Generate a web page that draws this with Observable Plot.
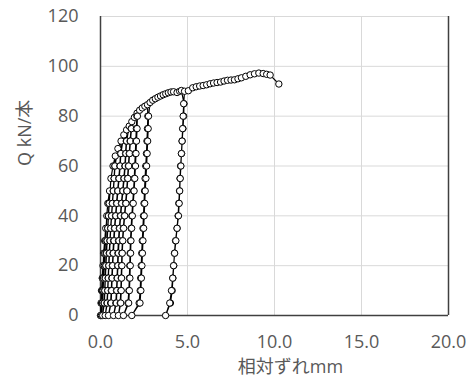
<!DOCTYPE html>
<html>
<head>
<meta charset="utf-8">
<script src="https://cdn.jsdelivr.net/npm/d3@7"></script>
<script src="https://cdn.jsdelivr.net/npm/@observablehq/plot@0.6"></script>
<style>
  html, body { margin: 0; padding: 0; background: white; }
  #chart { width: 469px; height: 381px; }
</style>
</head>
<body>
<div id="chart"></div>
<script>
// Tick values
const xTicks = [0, 5, 10, 15, 20];
const yTicks = [0, 20, 40, 60, 80, 100, 120];

// Envelope (monotonic loading path), slip mm / load kN
const envSlip = [0,0.03,0.06,0.10,0.14,0.18,0.24,0.30,0.36,0.42,0.52,0.60,0.72,0.85,1.00,1.18,1.34,1.50,1.65,1.80,1.95,2.10,2.25,2.40,2.55,2.70,2.85,3.00,3.15,3.30,3.45,3.60,3.75,3.90,4.05,4.20,4.40,4.55,4.65,5.05,5.30,5.50,5.70,5.90,6.10,6.30,6.50,6.70,6.90,7.10,7.30,7.50,7.70,7.90,8.10,8.35,8.60,8.85,9.10,9.35,9.55,9.75,10.25];
const envLoad = [0,5,10,15,20,25,30,35,40,45,50,55,60,64,67,70,72.5,74.5,76,77.8,79.5,81.2,82.4,83.3,84,84.6,85.5,86.4,87,87.6,88.1,88.6,89,89.4,89.7,89.8,89.5,90,90.3,90.2,91.4,91.8,92.1,92.3,92.6,93,93.3,93.5,93.7,94.1,94.4,94.5,94.6,95,95.4,96,96.6,97,97.3,97.1,96.8,96.5,92.9];

// Envelope loads at which each unloading/reloading cycle starts
const cycleTopLoad = [20, 35, 50, 64, 70, 74.5, 77.8, 81.2, 84.6, 90.3];

// Cycles: unloading then reloading (slip mm, load kN)
const cyc0Slip = [0.12,0.09,0.06,0.02,0.07,0.10,0.13];
const cyc0Load = [15,10,5,0,5,10,15];
const cyc1Slip = [0.28,0.24,0.21,0.17,0.14,0.10,0.05,0.11,0.15,0.18,0.22,0.25,0.29];
const cyc1Load = [30,25,20,15,10,5,0,5,10,15,20,25,30];
const cyc2Slip = [0.49,0.45,0.41,0.37,0.33,0.30,0.27,0.24,0.20,0.12,0.22,0.25,0.28,0.31,0.35,0.38,0.42,0.46,0.50];
const cyc2Load = [45,40,35,30,25,20,15,10,5,0,5,10,15,20,25,30,35,40,45];
const cyc3Slip = [0.82,0.78,0.73,0.68,0.63,0.58,0.54,0.50,0.47,0.44,0.41,0.37,0.27,0.39,0.42,0.45,0.48,0.52,0.55,0.59,0.64,0.69,0.74,0.79,0.83];
const cyc3Load = [60,55,50,45,40,35,30,25,20,15,10,5,0,5,10,15,20,25,30,35,40,45,50,55,60];
const cyc4Slip = [1.15,1.11,1.05,0.98,0.92,0.86,0.80,0.75,0.72,0.68,0.65,0.62,0.58,0.46,0.61,0.64,0.67,0.70,0.74,0.78,0.82,0.88,0.94,1.00,1.07,1.13,1.17];
const cyc4Load = [65,60,55,50,45,40,35,30,25,20,15,10,5,0,5,10,15,20,25,30,35,40,45,50,55,60,65];
const cyc5Slip = [1.48,1.44,1.40,1.34,1.27,1.20,1.14,1.08,1.03,1.00,0.98,0.95,0.92,0.88,0.75,0.91,0.94,0.97,1.00,1.03,1.06,1.10,1.16,1.22,1.29,1.36,1.42,1.46,1.50];
const cyc5Load = [70,65,60,55,50,45,40,35,30,25,20,15,10,5,0,5,10,15,20,25,30,35,40,45,50,55,60,65,70];
const cyc6Slip = [1.76,1.70,1.65,1.60,1.55,1.50,1.44,1.37,1.31,1.26,1.23,1.21,1.19,1.17,1.13,1.03,1.16,1.19,1.21,1.23,1.25,1.28,1.33,1.39,1.46,1.52,1.57,1.62,1.67,1.72,1.78];
const cyc6Load = [75,70,65,60,55,50,45,40,35,30,25,20,15,10,5,0,5,10,15,20,25,30,35,40,45,50,55,60,65,70,75];
const cyc7Slip = [2.09,2.06,2.03,2.00,1.97,1.94,1.90,1.85,1.80,1.76,1.72,1.70,1.68,1.66,1.63,1.58,1.32,1.62,1.66,1.69,1.71,1.73,1.75,1.79,1.83,1.88,1.93,1.97,2.01,2.04,2.07,2.10,2.12];
const cyc7Load = [80,75,70,65,60,55,50,45,40,35,30,25,20,15,10,5,0,5,10,15,20,25,30,35,40,45,50,55,60,65,70,75,80];
const cyc8Slip = [2.72,2.70,2.67,2.64,2.60,2.56,2.53,2.50,2.47,2.44,2.40,2.37,2.34,2.31,2.28,2.22,1.80,2.27,2.32,2.35,2.38,2.41,2.44,2.48,2.51,2.54,2.57,2.61,2.65,2.68,2.71,2.74,2.76];
const cyc8Load = [80,75,70,65,60,55,50,45,40,35,30,25,20,15,10,5,0,5,10,15,20,25,30,35,40,45,50,55,60,65,70,75,80];
const cyc9Slip = [4.80,4.78,4.74,4.69,4.66,4.60,4.57,4.54,4.50,4.46,4.40,4.31,4.25,4.21,4.16,4.12,4.02,3.74,3.98,4.08,4.15,4.20,4.26,4.33,4.40,4.48,4.52,4.55,4.58,4.62,4.65,4.69,4.72,4.75,4.78,4.83];
const cyc9Load = [85,80,75,70,65,60,55,50,45,40,35,30,25,20,15,10,5,0,5,10,15,20,25,30,35,40,45,50,55,60,65,70,75,80,85,90];

const cycSlip = [cyc0Slip, cyc1Slip, cyc2Slip, cyc3Slip, cyc4Slip, cyc5Slip, cyc6Slip, cyc7Slip, cyc8Slip, cyc9Slip];
const cycLoad = [cyc0Load, cyc1Load, cyc2Load, cyc3Load, cyc4Load, cyc5Load, cyc6Load, cyc7Load, cyc8Load, cyc9Load];

// Build the test sequence in order
const seq = [];
envSlip.forEach((s, i) => {
  seq.push({s, q: envLoad[i]});
  const k = cycleTopLoad.indexOf(envLoad[i]);
  if (k >= 0) {
    cycSlip[k].forEach((cs, j) => seq.push({s: cs, q: cycLoad[k][j]}));
  }
});

const FONT = "'Open Sans', 'Noto Sans CJK JP', sans-serif";
const grey = "#595959";

const chart = Plot.plot({
  width: 469,
  height: 381,
  marginLeft: 100,
  marginRight: 21,
  marginTop: 16,
  marginBottom: 66,
  style: {fontFamily: FONT, fontSize: "18px", color: grey, background: "white"},
  x: {domain: [0, 20], label: null},
  y: {domain: [0, 120], label: null},
  marks: [
    Plot.gridX(xTicks, {stroke: "#d9d9d9", strokeOpacity: 1, strokeWidth: 1}),
    Plot.gridY(yTicks, {stroke: "#d9d9d9", strokeOpacity: 1, strokeWidth: 1}),
    Plot.axisX(xTicks, {tickSize: 0, tickPadding: 20, tickFormat: d => d.toFixed(1), label: null, fill: grey}),
    Plot.axisY(yTicks, {tickSize: 0, tickPadding: 22, label: null, fill: grey}),
    Plot.ruleY([0], {stroke: "#404040", strokeWidth: 1.5}),
    Plot.ruleX([0, 20], {stroke: "#404040", strokeWidth: 1.5}),
    Plot.line(seq, {x: "s", y: "q", stroke: "black", strokeWidth: 1.2}),
    Plot.dot(seq, {x: "s", y: "q", r: 3.2, fill: "white", stroke: "black", strokeWidth: 1}),
    Plot.text(["相対ずれmm"], {frameAnchor: "bottom", dx: 16, dy: 57, fill: grey, fontSize: 18}),
    Plot.text(["Q kN/本"], {frameAnchor: "left", dx: -75, rotate: -90, fill: grey, fontSize: 18})
  ]
});
document.getElementById("chart").appendChild(chart);
</script>
</body>
</html>
